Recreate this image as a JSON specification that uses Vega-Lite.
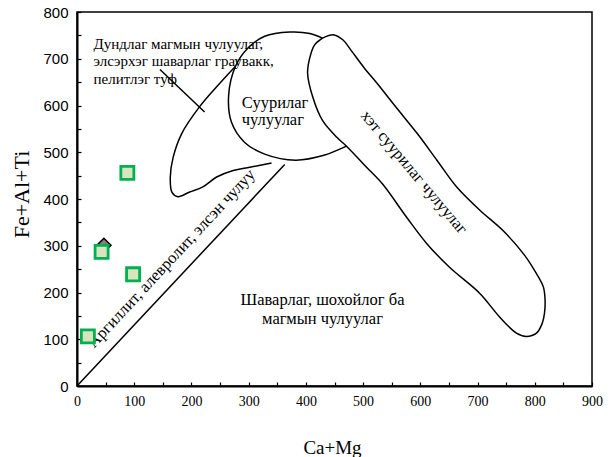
{
  "$schema": "https://vega.github.io/schema/vega-lite/v6.json",
  "width": 515,
  "height": 374,
  "autosize": {"type": "none"},
  "padding": {"left": 77, "top": 12, "right": 19, "bottom": 71},
  "background": "white",
  "config": {"view": {"stroke": "black", "strokeWidth": 1.5}, "font": "Liberation Serif"},
  "encoding": {
    "x": {
      "field": "x", "type": "quantitative",
      "scale": {"domain": [0, 900], "nice": false, "zero": false},
      "axis": {
        "title": "Ca+Mg",
        "values": [0, 50, 100, 150, 200, 250, 300, 350, 400, 450, 500, 550, 600, 650, 700, 750, 800, 850, 900],
        "labelExpr": "datum.value % 100 === 0 ? datum.label : ''",
        "grid": false, "domainColor": "black", "domainWidth": 2,
        "tickColor": "black", "tickWidth": 1.2, "tickSize": -4,
        "labelFont": "Liberation Serif", "labelFontSize": 14, "labelColor": "black",
        "labelPadding": 12, "labelFlush": false, "labelOverlap": false,
        "titleFont": "Liberation Serif", "titleFontSize": 19, "titleFontWeight": "normal", "titleColor": "black",
        "titleX": 255, "titleY": 61, "titleBaseline": "middle", "titleAlign": "center"
      }
    },
    "y": {
      "field": "y", "type": "quantitative",
      "scale": {"domain": [0, 800], "nice": false, "zero": false},
      "axis": {
        "title": "Fe+Al+Ti",
        "values": [0, 50, 100, 150, 200, 250, 300, 350, 400, 450, 500, 550, 600, 650, 700, 750, 800],
        "labelExpr": "datum.value % 100 === 0 ? datum.label : ''",
        "grid": false, "domainColor": "black", "domainWidth": 2,
        "tickColor": "black", "tickWidth": 1.2, "tickSize": -4,
        "labelFont": "Liberation Sans", "labelFontSize": 15, "labelColor": "black",
        "labelPadding": 13, "labelFlush": false, "labelOverlap": false,
        "titleFont": "Liberation Serif", "titleFontSize": 22, "titleFontWeight": "normal", "titleColor": "black",
        "titleAngle": 270, "titleX": -56, "titleY": 182, "titleBaseline": "middle", "titleAlign": "center"
      }
    }
  },
  "layer": [
    {
      "data": {"values": [
        {"c": "d", "i": 0, "x": 0, "y": 0},
        {"c": "d", "i": 1, "x": 363, "y": 474},
        {"c": "p", "i": 0, "x": 145, "y": 677},
        {"c": "p", "i": 1, "x": 223, "y": 586},
        {"c": "c1", "i": 0, "x": 340, "y": 477},
        {"c": "c1", "i": 1, "x": 302, "y": 468},
        {"c": "c1", "i": 2, "x": 273, "y": 461},
        {"c": "c1", "i": 3, "x": 244, "y": 447},
        {"c": "c1", "i": 4, "x": 220, "y": 426},
        {"c": "c1", "i": 5, "x": 197, "y": 415},
        {"c": "c1", "i": 6, "x": 176, "y": 405},
        {"c": "c1", "i": 7, "x": 166, "y": 414},
        {"c": "c1", "i": 8, "x": 163, "y": 446},
        {"c": "c1", "i": 9, "x": 168, "y": 489},
        {"c": "c1", "i": 10, "x": 183, "y": 540},
        {"c": "c1", "i": 11, "x": 214, "y": 597},
        {"c": "c1", "i": 12, "x": 244, "y": 640},
        {"c": "c1", "i": 13, "x": 277, "y": 684},
        {"c": "c2", "i": 0, "x": 429, "y": 744},
        {"c": "c2", "i": 1, "x": 407, "y": 754},
        {"c": "c2", "i": 2, "x": 372, "y": 757},
        {"c": "c2", "i": 3, "x": 328, "y": 748},
        {"c": "c2", "i": 4, "x": 298, "y": 722},
        {"c": "c2", "i": 5, "x": 277, "y": 684},
        {"c": "c2", "i": 6, "x": 265, "y": 622},
        {"c": "c2", "i": 7, "x": 270, "y": 564},
        {"c": "c2", "i": 8, "x": 293, "y": 521},
        {"c": "c2", "i": 9, "x": 328, "y": 496},
        {"c": "c2", "i": 10, "x": 382, "y": 483},
        {"c": "c2", "i": 11, "x": 433, "y": 494},
        {"c": "c2", "i": 12, "x": 471, "y": 513},
        {"c": "c3", "i": 0, "x": 429, "y": 744},
        {"c": "c3", "i": 1, "x": 449, "y": 751},
        {"c": "c3", "i": 2, "x": 465, "y": 740},
        {"c": "c3", "i": 3, "x": 479, "y": 718},
        {"c": "c3", "i": 4, "x": 501, "y": 682},
        {"c": "c3", "i": 5, "x": 524, "y": 648},
        {"c": "c3", "i": 6, "x": 559, "y": 594},
        {"c": "c3", "i": 7, "x": 594, "y": 541},
        {"c": "c3", "i": 8, "x": 629, "y": 483},
        {"c": "c3", "i": 9, "x": 664, "y": 425},
        {"c": "c3", "i": 10, "x": 704, "y": 376},
        {"c": "c3", "i": 11, "x": 744, "y": 333},
        {"c": "c3", "i": 12, "x": 782, "y": 280},
        {"c": "c3", "i": 13, "x": 805, "y": 236},
        {"c": "c3", "i": 14, "x": 815, "y": 212},
        {"c": "c3", "i": 15, "x": 818, "y": 184},
        {"c": "c3", "i": 16, "x": 817, "y": 156},
        {"c": "c3", "i": 17, "x": 813, "y": 134},
        {"c": "c3", "i": 18, "x": 803, "y": 113},
        {"c": "c3", "i": 19, "x": 785, "y": 106},
        {"c": "c3", "i": 20, "x": 768, "y": 113},
        {"c": "c3", "i": 21, "x": 739, "y": 147},
        {"c": "c3", "i": 22, "x": 704, "y": 198},
        {"c": "c3", "i": 23, "x": 651, "y": 254},
        {"c": "c3", "i": 24, "x": 611, "y": 305},
        {"c": "c3", "i": 25, "x": 576, "y": 361},
        {"c": "c3", "i": 26, "x": 534, "y": 432},
        {"c": "c3", "i": 27, "x": 506, "y": 468},
        {"c": "c3", "i": 28, "x": 471, "y": 513},
        {"c": "c3", "i": 29, "x": 454, "y": 532},
        {"c": "c3", "i": 30, "x": 429, "y": 568},
        {"c": "c3", "i": 31, "x": 412, "y": 618},
        {"c": "c3", "i": 32, "x": 403, "y": 669},
        {"c": "c3", "i": 33, "x": 407, "y": 703},
        {"c": "c3", "i": 34, "x": 415, "y": 729},
        {"c": "c3", "i": 35, "x": 429, "y": 744}
      ]},
      "mark": {"type": "line", "interpolate": "catmull-rom", "color": "black", "strokeWidth": 1.5},
      "encoding": {
        "detail": {"field": "c"},
        "order": {"field": "i", "type": "quantitative"}
      }
    },
    {
      "data": {"values": [
        {"x": 29, "y": 732, "t": "Дундлаг магмын чулуулаг,\nэлсэрхэг шаварлаг граувакк,\nпелитлэг туф", "s": 15},
        {"x": 288, "y": 606, "t": "Суурилаг\nчулуулаг", "s": 16.5}
      ]},
      "mark": {"type": "text", "align": "left", "baseline": "middle", "font": "Liberation Serif", "lineHeight": 17.5, "lineBreak": "\n", "color": "black"},
      "encoding": {
        "text": {"field": "t"},
        "size": {"field": "s", "type": "quantitative", "scale": null}
      }
    },
    {
      "data": {"values": [
        {"x": 429, "y": 184, "t": "Шаварлаг,  шохойлог ба\nмагмын чулуулаг", "a": 0, "s": 16.5},
        {"x": 589, "y": 457, "t": "хэт суурилаг  чулуулаг", "a": 50, "s": 16.5},
        {"x": 165, "y": 273, "t": "Аргиллит, алевролит, элсэн чулуу", "a": -47, "s": 16.5}
      ]},
      "mark": {"type": "text", "align": "center", "baseline": "middle", "font": "Liberation Serif", "lineHeight": 19, "lineBreak": "\n", "color": "black"},
      "encoding": {
        "text": {"field": "t"},
        "angle": {"field": "a", "type": "quantitative", "scale": null},
        "size": {"field": "s", "type": "quantitative", "scale": null}
      }
    },
    {
      "data": {"values": [{"x": 47, "y": 301}]},
      "mark": {"type": "point", "shape": "diamond", "filled": true, "fill": "#808080", "stroke": "black", "strokeWidth": 1.5, "size": 200, "opacity": 1}
    },
    {
      "data": {"values": [
        {"x": 19, "y": 106},
        {"x": 43, "y": 287},
        {"x": 98, "y": 239},
        {"x": 88, "y": 456}
      ]},
      "mark": {"type": "point", "shape": "square", "filled": true, "fill": "#d7e4bd", "stroke": "#00b050", "strokeWidth": 2.8, "size": 170, "opacity": 1}
    }
  ]
}
